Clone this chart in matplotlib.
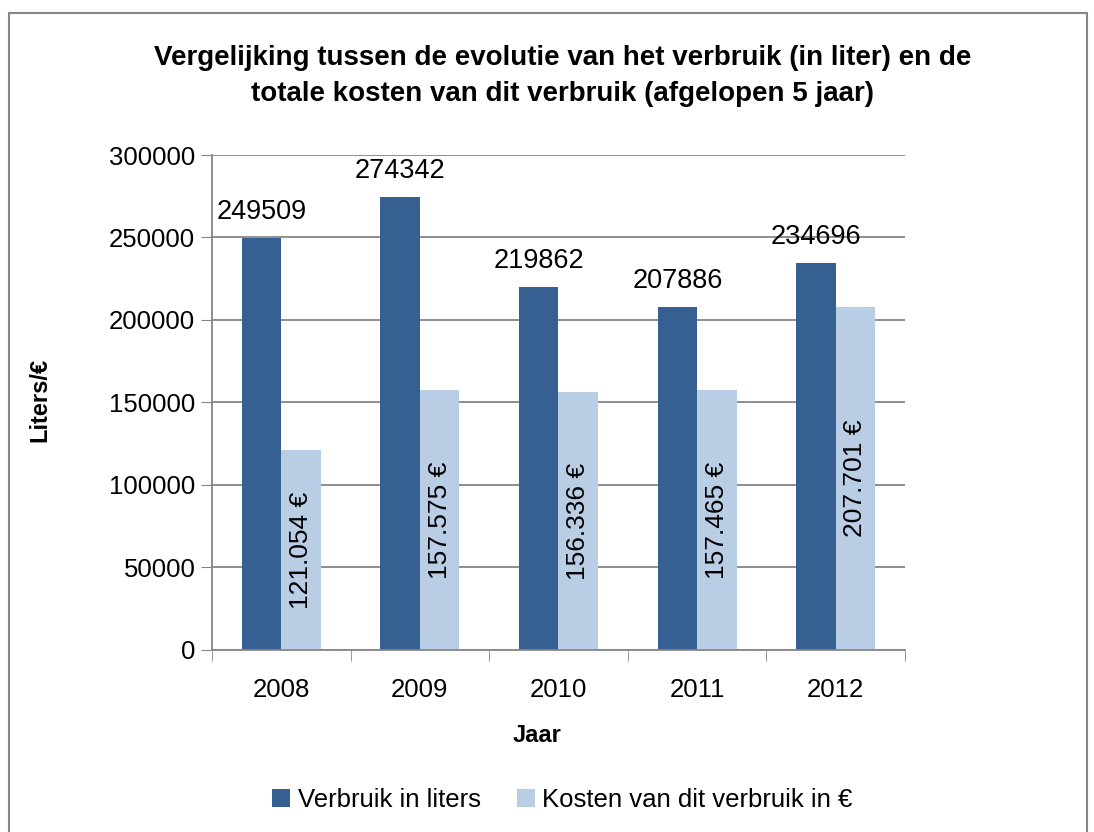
import numpy as np
import matplotlib.pyplot as plt
from matplotlib.patches import Rectangle

# data
jaren = ["2008", "2009", "2010", "2011", "2012"]
verbruik = [249509, 274342, 219862, 207886, 234696]
kosten = [121054, 157575, 156336, 157465, 207701]
kosten_labels = ["121.054 €", "157.575 €", "156.336 €", "157.465 €", "207.701 €"]

donker = "#376092"
licht = "#B9CDE5"
grijs = "#868686"

plt.rcParams['font.family'] = ['Liberation Sans', 'DejaVu Sans']

fig = plt.figure(figsize=(10.94, 8.32), dpi=100)
ax = fig.add_axes([0.1938, 0.2188, 0.6334, 0.5949])

x = np.arange(len(jaren))
w = 0.285
b1 = ax.bar(x - w/2, verbruik, w, color=donker, label="Verbruik in liters")
b2 = ax.bar(x + w/2, kosten, w, color=licht, label="Kosten van dit verbruik in €")

for xi, v in zip(x, verbruik):
    ax.annotate(str(v), (xi - w/2, v), xytext=(0, 26), textcoords="offset pixels",
                ha="center", va="center", fontsize=19.5)
for xi, v, lab in zip(x, kosten, kosten_labels):
    ax.text(xi + w/2, v/2, lab, rotation=90, ha="center", va="center", fontsize=19)

ax.set_xlim(-0.5, len(jaren) - 0.5)
ax.set_ylim(0, 300000)
ax.set_yticks(np.arange(0, 300001, 50000))
ax.set_xticks(x)
ax.set_xticklabels(jaren)
ax.set_xticks(np.arange(-0.5, len(jaren)), minor=True)
ax.tick_params(axis="x", which="major", length=0, pad=20, labelsize=18.5)
ax.tick_params(axis="x", which="minor", length=8, color=grijs, direction="out")
ax.tick_params(axis="y", length=8, color=grijs, direction="out", pad=4, labelsize=18.5)
ax.yaxis.grid(True, color=grijs, linewidth=1.3)
ax.set_axisbelow(True)
for s in ["top", "right"]:
    ax.spines[s].set_visible(False)
for s in ["left", "bottom"]:
    ax.spines[s].set_color(grijs)
    ax.spines[s].set_linewidth(1.3)

fig.text(0.514, 1 - 76/832,
         "Vergelijking tussen de evolutie van het verbruik (in liter) en de\n"
         "totale kosten van dit verbruik (afgelopen 5 jaar)",
         ha="center", va="center", fontsize=20, fontweight="bold", linespacing=1.5)
fig.text(40/1094, 1 - 400/832, "Liters/€", rotation=90, ha="center", va="center",
         fontsize=17, fontweight="bold")
fig.text(537/1094, 1 - 735/832, "Jaar", ha="center", va="center",
         fontsize=17, fontweight="bold")

fig.legend(handles=[b1, b2], loc="center", bbox_to_anchor=(0.514, 1 - 800/832),
           ncol=2, frameon=False, fontsize=18.5, handlelength=0.7, handleheight=0.7,
           handletextpad=0.3, columnspacing=1.4)

fig.patches.append(Rectangle((9/1094, -0.1), 1078/1094, 1.1 - 13/832,
                             transform=fig.transFigure, fill=False,
                             edgecolor=grijs, linewidth=1.5))

fig.savefig("out.png", dpi=100)
